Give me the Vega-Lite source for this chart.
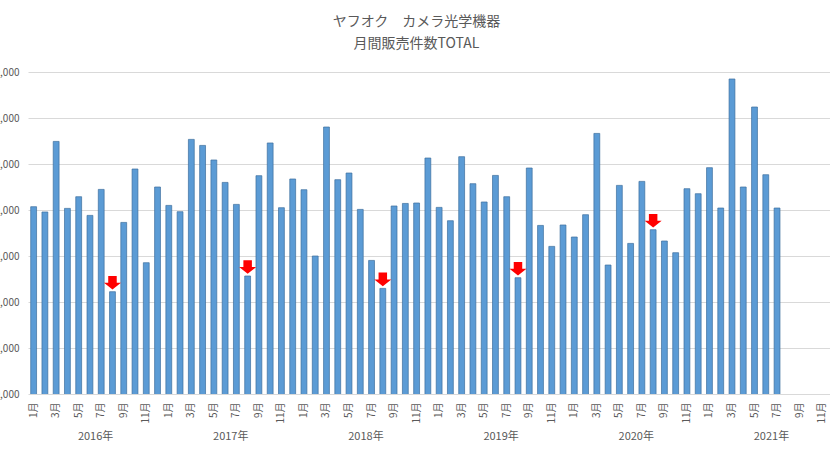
{
  "$schema": "https://vega.github.io/schema/vega-lite/v6.json",
  "autosize": "none",
  "width": 811,
  "height": 322,
  "padding": {"left": 28, "top": 72, "right": -9, "bottom": 66},
  "background": "white",
  "title": {
    "text": ["ヤフオク　カメラ光学機器", "月間販売件数TOTAL"],
    "font": "Noto Sans CJK JP",
    "fontSize": 14,
    "fontWeight": "normal",
    "color": "#595959",
    "lineHeight": 22,
    "anchor": "middle",
    "dx": -17,
    "offset": 16
  },
  "data": {
    "values": [
      {"month": "2016-01", "year": 2016, "value": 180720},
      {"month": "2016-02", "year": 2016, "value": 179570},
      {"month": "2016-03", "year": 2016, "value": 194910},
      {"month": "2016-04", "year": 2016, "value": 180350},
      {"month": "2016-05", "year": 2016, "value": 182890},
      {"month": "2016-06", "year": 2016, "value": 178830},
      {"month": "2016-07", "year": 2016, "value": 184480},
      {"month": "2016-08", "year": 2016, "value": 162240, "drop": true},
      {"month": "2016-09", "year": 2016, "value": 177300},
      {"month": "2016-10", "year": 2016, "value": 188910},
      {"month": "2016-11", "year": 2016, "value": 168540},
      {"month": "2016-12", "year": 2016, "value": 185000},
      {"month": "2017-01", "year": 2017, "value": 181000},
      {"month": "2017-02", "year": 2017, "value": 179630},
      {"month": "2017-03", "year": 2017, "value": 195350},
      {"month": "2017-04", "year": 2017, "value": 194040},
      {"month": "2017-05", "year": 2017, "value": 190870},
      {"month": "2017-06", "year": 2017, "value": 186000},
      {"month": "2017-07", "year": 2017, "value": 181220},
      {"month": "2017-08", "year": 2017, "value": 165650, "drop": true},
      {"month": "2017-09", "year": 2017, "value": 187460},
      {"month": "2017-10", "year": 2017, "value": 194570},
      {"month": "2017-11", "year": 2017, "value": 180500},
      {"month": "2017-12", "year": 2017, "value": 186740},
      {"month": "2018-01", "year": 2018, "value": 184410},
      {"month": "2018-02", "year": 2018, "value": 170000},
      {"month": "2018-03", "year": 2018, "value": 198040},
      {"month": "2018-04", "year": 2018, "value": 186590},
      {"month": "2018-05", "year": 2018, "value": 188040},
      {"month": "2018-06", "year": 2018, "value": 180130},
      {"month": "2018-07", "year": 2018, "value": 169040},
      {"month": "2018-08", "year": 2018, "value": 162960, "drop": true},
      {"month": "2018-09", "year": 2018, "value": 180870},
      {"month": "2018-10", "year": 2018, "value": 181430},
      {"month": "2018-11", "year": 2018, "value": 181520},
      {"month": "2018-12", "year": 2018, "value": 191300},
      {"month": "2019-01", "year": 2019, "value": 180570},
      {"month": "2019-02", "year": 2019, "value": 177670},
      {"month": "2019-03", "year": 2019, "value": 191590},
      {"month": "2019-04", "year": 2019, "value": 185720},
      {"month": "2019-05", "year": 2019, "value": 181740},
      {"month": "2019-06", "year": 2019, "value": 187520},
      {"month": "2019-07", "year": 2019, "value": 182890},
      {"month": "2019-08", "year": 2019, "value": 165280, "drop": true},
      {"month": "2019-09", "year": 2019, "value": 189130},
      {"month": "2019-10", "year": 2019, "value": 176650},
      {"month": "2019-11", "year": 2019, "value": 172090},
      {"month": "2019-12", "year": 2019, "value": 176740},
      {"month": "2020-01", "year": 2020, "value": 174130},
      {"month": "2020-02", "year": 2020, "value": 178980},
      {"month": "2020-03", "year": 2020, "value": 196650},
      {"month": "2020-04", "year": 2020, "value": 168040},
      {"month": "2020-05", "year": 2020, "value": 185350},
      {"month": "2020-06", "year": 2020, "value": 172740},
      {"month": "2020-07", "year": 2020, "value": 186220},
      {"month": "2020-08", "year": 2020, "value": 175720, "drop": true},
      {"month": "2020-09", "year": 2020, "value": 173260},
      {"month": "2020-10", "year": 2020, "value": 170720},
      {"month": "2020-11", "year": 2020, "value": 184630},
      {"month": "2020-12", "year": 2020, "value": 183540},
      {"month": "2021-01", "year": 2021, "value": 189200},
      {"month": "2021-02", "year": 2021, "value": 180430},
      {"month": "2021-03", "year": 2021, "value": 208480},
      {"month": "2021-04", "year": 2021, "value": 185000},
      {"month": "2021-05", "year": 2021, "value": 202390},
      {"month": "2021-06", "year": 2021, "value": 187670},
      {"month": "2021-07", "year": 2021, "value": 180430},
      {"month": "2021-08", "year": 2021, "value": null},
      {"month": "2021-09", "year": 2021, "value": null},
      {"month": "2021-10", "year": 2021, "value": null},
      {"month": "2021-11", "year": 2021, "value": null},
      {"month": "2021-12", "year": 2021, "value": null}
    ]
  },
  "layer": [
    {
      "encoding": {
        "x": {
          "field": "month",
          "type": "ordinal",
          "sort": "ascending",
          "scale": {"paddingInner": 0.48, "paddingOuter": 0.24},
          "axis": {
            "title": null,
            "labelAngle": -90,
            "labelExpr": "toNumber(substring(datum.value, 5)) % 2 == 1 ? toNumber(substring(datum.value, 5)) + '月' : ''",
            "labelFont": "Noto Sans CJK JP",
            "labelFontSize": 10,
            "labelColor": "#595959",
            "labelPadding": 8,
            "ticks": false,
            "domain": false,
            "grid": false
          }
        }
      },
      "layer": [
        {"mark": {"type": "rule", "opacity": 0}},
        {
          "transform": [{"filter": "isValid(datum.value)"}],
          "mark": {"type": "bar", "fill": "#5b9bd5", "stroke": "#3c6e9e", "strokeWidth": 0.7, "clip": true},
          "encoding": {
            "y": {
              "field": "value",
              "type": "quantitative",
              "scale": {"domain": [140000, 210000], "zero": false, "nice": false},
              "axis": {
                "title": null,
                "values": [140000, 150000, 160000, 170000, 180000, 190000, 200000, 210000],
                "format": ",.0f",
                "labelFont": "Noto Sans CJK JP",
                "labelFontSize": 10,
                "labelColor": "#595959",
                "labelPadding": 9,
                "ticks": false,
                "domain": false,
                "gridColor": "#d9d9d9",
                "gridWidth": 1
              }
            }
          }
        },
        {
          "transform": [{"filter": "datum.drop === true"}],
          "mark": {
            "type": "point",
            "shape": "M-0.5,-0.8L0.5,-0.8L0.5,0L1,0L0,0.8L-1,0L-0.5,0Z",
            "filled": true,
            "fill": "#ff0000",
            "opacity": 1,
            "size": 289,
            "yOffset": -9
          },
          "encoding": {
            "y": {"field": "value", "type": "quantitative"}
          }
        }
      ]
    },
    {
      "mark": {"type": "rule", "opacity": 0},
      "encoding": {
        "x": {
          "field": "year",
          "type": "ordinal",
          "scale": {"paddingInner": 0, "paddingOuter": 0},
          "axis": {
            "orient": "bottom",
            "title": null,
            "labelAngle": 0,
            "labelExpr": "datum.value + '年'",
            "labelFont": "Noto Sans CJK JP",
            "labelFontSize": 11,
            "labelColor": "#595959",
            "labelPadding": 36,
            "ticks": false,
            "domain": false,
            "grid": false
          }
        }
      }
    }
  ],
  "resolve": {"scale": {"x": "independent"}},
  "config": {"view": {"stroke": null}}
}
